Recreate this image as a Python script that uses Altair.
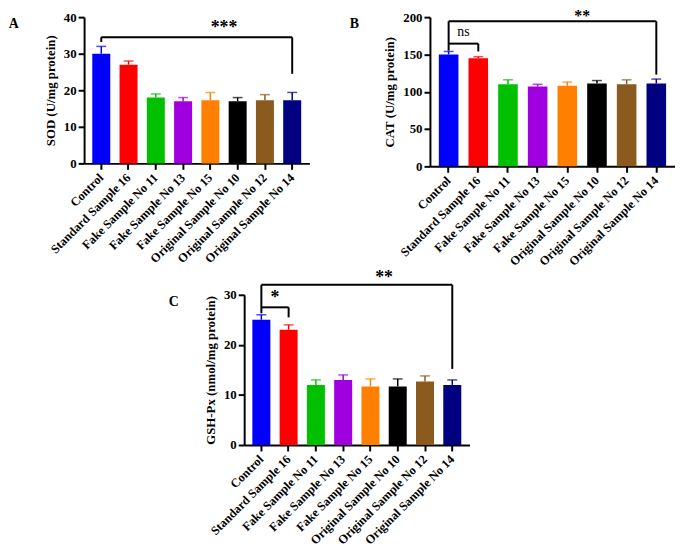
import altair as alt
import pandas as pd

samples = ["Control", "Standard Sample 16", "Fake Sample No 11", "Fake Sample No 13",
           "Fake Sample No 15", "Original Sample No 10", "Original Sample No 12",
           "Original Sample No 14"]
colors = ["#0000FF", "#FF0000", "#00C000", "#A000E0", "#FF8000", "#000000", "#8B5A1E", "#000080"]

sod = [30, 27, 18, 17, 17.3, 17, 17.3, 17.3]
sod_err = [2, 1, 1, 1, 2.1, 1, 1.5, 2.1]
cat = [150, 145, 110, 107, 108, 111, 110, 111]
cat_err = [4, 2, 6, 3, 5, 4, 6, 6]
gsh = [25, 23, 12, 13, 11.7, 11.7, 12.7, 12]
gsh_err = [1, 1, 1, 1, 1.5, 1.5, 1.1, 1]

# significance brackets: (from, to, bar level, left drop end, right drop end)
sod_brackets = [("Control", "Original Sample No 14", 34.5, 33.2, 24.5)]
cat_brackets = [("Control", "Original Sample No 14", 194.5, 155, 123),
                ("Control", "Standard Sample 16", 164.5, 164.5, 154)]
gsh_brackets = [("Control", "Original Sample No 14", 32, 26.3, 15.2),
                ("Control", "Standard Sample 16", 27.5, 27.5, 25.5)]
# labels: (text, category left of the gap, y, font size)
sod_labels = [("***", "Fake Sample No 15", 37.0, 18)]
cat_labels = [("**", "Fake Sample No 15", 201, 16), ("ns", "Control", 180, 14)]
gsh_labels = [("**", "Fake Sample No 15", 33.4, 18), ("*", "Control", 29.4, 18)]

FONT = "Times New Roman"


def panel(values, errs, ymax, tick_step, ytitle, letter, brackets, labels, w, h):
    df = pd.DataFrame({"sample": samples, "value": values,
                       "upper": [v + e for v, e in zip(values, errs)]})
    xscale = alt.Scale(domain=samples, paddingInner=0.34, paddingOuter=0.3)
    xaxis = alt.Axis(labelAngle=-45, labelAlign="right", labelBaseline="middle",
                     labelPadding=6, labelFontSize=12.5, labelOverlap=False)
    yscale = alt.Scale(domain=[0, ymax], nice=False)
    yaxis = alt.Axis(values=list(range(0, ymax + 1, tick_step)), labelFontSize=13,
                     titleFontSize=13, titlePadding=6, labelOverlap=False)

    def X(f):
        return alt.X(f, scale=xscale, axis=xaxis, title=None)

    def Y(f):
        return alt.Y(f, scale=yscale, axis=yaxis, title=ytitle)

    color = alt.Color("sample:N", scale=alt.Scale(domain=samples, range=colors), legend=None)
    base = alt.Chart(df)
    bars = base.mark_bar().encode(x=X("sample:N"), y=Y("value:Q"), color=color)
    err = base.mark_rule(strokeWidth=1.5).encode(x=X("sample:N"), y=Y("value:Q"),
                                                 y2="upper:Q", color=color)
    caps = base.mark_tick(thickness=1.5, size=10).encode(x=X("sample:N"), y=Y("upper:Q"),
                                                        color=color)

    hdf = pd.DataFrame({"a": [b[0] for b in brackets], "b": [b[1] for b in brackets],
                        "y": [b[2] for b in brackets]})
    vdf = pd.DataFrame({"s": [b[0] for b in brackets] + [b[1] for b in brackets],
                        "top": [b[2] for b in brackets] * 2,
                        "bot": [b[3] for b in brackets] + [b[4] for b in brackets]})
    hl = alt.Chart(hdf).mark_rule(color="black", strokeWidth=2).encode(
        x=X("a:N"), x2="b:N", y=Y("y:Q"))
    vl = alt.Chart(vdf).mark_rule(color="black", strokeWidth=2).encode(
        x=X("s:N"), y=Y("top:Q"), y2="bot:Q")

    layers = [bars, err, caps, hl, vl]
    step = w / (8 - 0.34 + 0.6)
    for text, s, yv, size in labels:
        tdf = pd.DataFrame({"s": [s], "y": [yv], "t": [text]})
        layers.append(alt.Chart(tdf).mark_text(
            font=FONT, fontSize=size, fontWeight="normal" if text == "ns" else "bold",
            dx=step / 2, baseline="middle", color="black").encode(
            x=X("s:N"), y=Y("y:Q"), text="t:N"))

    return alt.layer(*layers).properties(
        width=w, height=h,
        title=alt.TitleParams(letter, orient="left", angle=0, anchor="end", baseline="top",
                              frame="group", font=FONT, fontSize=14, fontWeight="bold",
                              offset=16))


a = panel(sod, sod_err, 40, 10, "SOD (U/mg protein)", "A", sod_brackets, sod_labels, 228, 148)
b = panel(cat, cat_err, 200, 50, "CAT (U/mg protein)", "B", cat_brackets, cat_labels, 248, 151)
c = panel(gsh, gsh_err, 30, 10, "GSH-Px (nmol/mg protein)", "C", gsh_brackets, gsh_labels, 228, 152)

# invisible spacer pushing panel C to the right
spacer = alt.Chart(pd.DataFrame({"v": [0]})).mark_point(opacity=0).encode(
    x=alt.value(0), y=alt.value(0)).properties(width=85, height=10)

chart = alt.vconcat(alt.hconcat(a, b, spacing=40), alt.hconcat(spacer, c, spacing=0),
                    spacing=0).properties(
    padding={"left": 0, "top": -3, "right": 0, "bottom": 0}
).configure_view(stroke=None).configure_axis(
    domainColor="black", domainWidth=2, tickColor="black", tickWidth=2, tickSize=6,
    labelFont=FONT, labelFontWeight="bold", labelColor="black",
    titleFont=FONT, titleFontWeight="bold", titleColor="black", grid=False
)

chart.save("out.html", embed_options={"renderer": "svg", "actions": False})
